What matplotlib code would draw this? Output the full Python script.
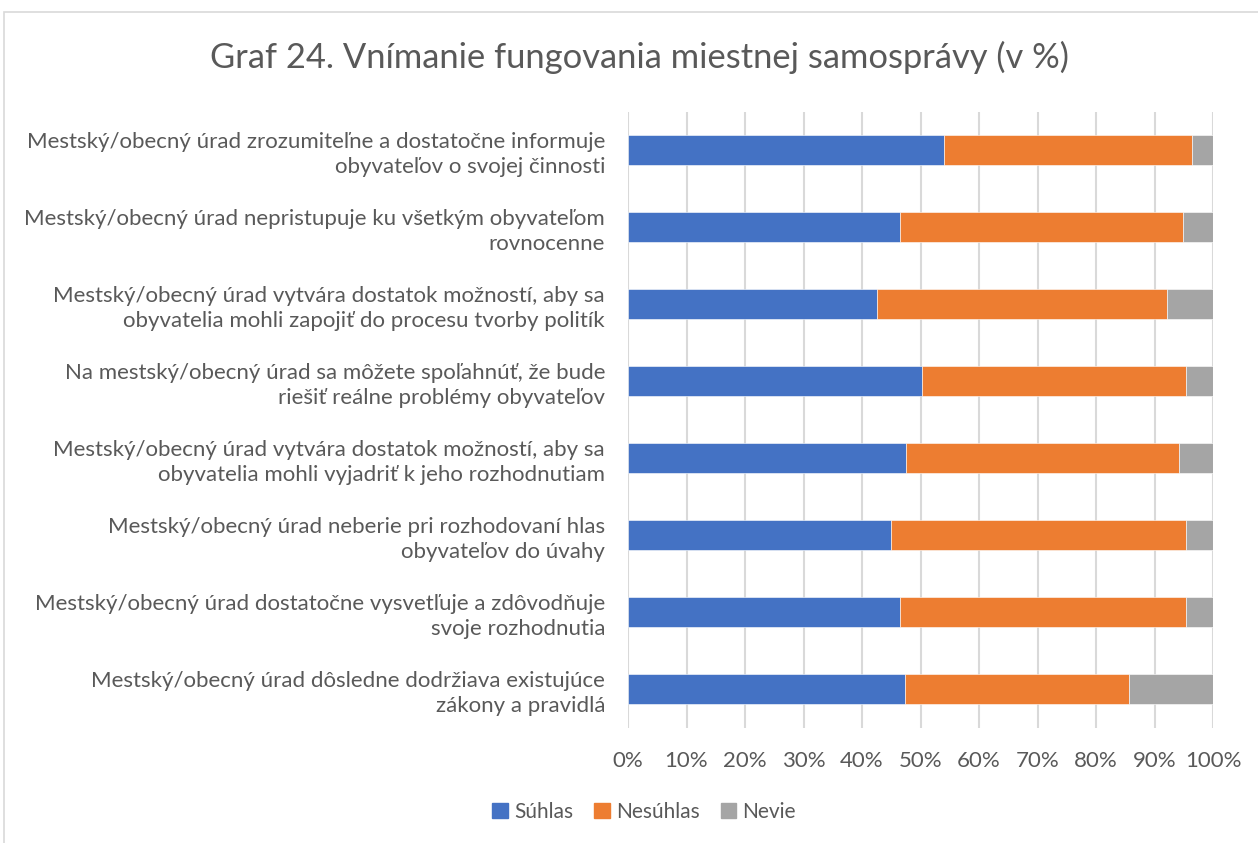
import matplotlib.pyplot as plt
import matplotlib.patches as mpatches
import numpy as np

plt.rcParams['font.family'] = ['Lato', 'DejaVu Sans']

# kategórie (zhora nadol)
categories = [
    "Mestský/obecný úrad zrozumiteľne a dostatočne informuje\nobyvateľov o svojej činnosti",
    "Mestský/obecný úrad nepristupuje ku všetkým obyvateľom\nrovnocenne",
    "Mestský/obecný úrad vytvára dostatok možností, aby sa\nobyvatelia mohli zapojiť do procesu tvorby politík",
    "Na mestský/obecný úrad sa môžete spoľahnúť, že bude\nriešiť reálne problémy obyvateľov",
    "Mestský/obecný úrad vytvára dostatok možností, aby sa\nobyvatelia mohli vyjadriť k jeho rozhodnutiam",
    "Mestský/obecný úrad neberie pri rozhodovaní hlas\nobyvateľov do úvahy",
    "Mestský/obecný úrad dostatočne vysvetľuje a zdôvodňuje\nsvoje rozhodnutia",
    "Mestský/obecný úrad dôsledne dodržiava existujúce\nzákony a pravidlá",
]
suhlas = [54.0, 46.5, 42.6, 50.3, 47.5, 45.0, 46.5, 47.4]
nesuhlas = [42.4, 48.3, 49.6, 45.1, 46.7, 50.3, 48.8, 38.3]
nevie = [3.6, 5.2, 7.8, 4.6, 5.8, 4.7, 4.7, 14.3]
series_names = ["Súhlas", "Nesúhlas", "Nevie"]
colors = ["#4472C4", "#ED7D31", "#A5A5A5"]

text_col = "#595959"

fig = plt.figure(figsize=(12.58, 8.43), dpi=100)
ax = fig.add_axes([628/1258, 1-727.5/843, 585/1258, 616/843])

y = np.arange(len(categories))
left = np.zeros(len(categories))
for vals, name, c in zip([suhlas, nesuhlas, nevie], series_names, colors):
    ax.barh(y, vals, left=left, height=0.4, color=c, label=name,
            edgecolor='white', linewidth=0.4, zorder=3)
    left = left + np.array(vals)

ax.set_ylim(len(categories) - 0.5, -0.5)
ax.set_xlim(0, 100)
ax.set_xticks(np.arange(0, 101, 10))
ax.set_xticklabels([f"{v}%" for v in range(0, 101, 10)])
ax.set_yticks(y)
ax.set_yticklabels(categories, linespacing=1.3)
ax.grid(axis='x', color='#D9D9D9', linewidth=1.5, zorder=0)
for s in ax.spines.values():
    s.set_visible(False)
ax.tick_params(axis='both', length=0, colors=text_col, labelsize=16)
ax.tick_params(axis='x', pad=17)
ax.tick_params(axis='y', pad=16.5)

fig.text(0.508, 1-57/843, "Graf 24. Vnímanie fungovania miestnej samosprávy (v %)",
         ha='center', va='center', fontsize=24.8, color=text_col)

handles = [mpatches.Patch(color=c, label=n) for c, n in zip(colors, series_names)]
fig.legend(handles=handles, loc='center', bbox_to_anchor=(0.512, 1-812/843),
           ncol=3, frameon=False, fontsize=15, labelcolor=text_col,
           handlelength=0.75, handleheight=0.75, handletextpad=0.3, columnspacing=1.0)

border = mpatches.Rectangle((4/1258, -0.05), 1.1, 1-12/843 + 0.05, transform=fig.transFigure,
                            fill=False, edgecolor='#D9D9D9', linewidth=1.2)
fig.patches.append(border)

fig.savefig("out.png", dpi=100)
